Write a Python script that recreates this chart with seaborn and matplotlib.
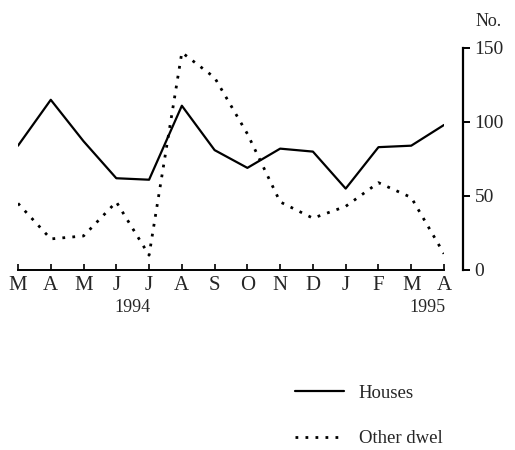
import pandas as pd
import matplotlib
matplotlib.use("Agg")
import matplotlib.pyplot as plt
import seaborn as sns

# monthly values (Mar 1994 - Apr 1995)
months = ["M", "A", "M", "J", "J", "A", "S", "O", "N", "D", "J", "F", "M", "A"]
houses = [84, 115, 87, 62, 61, 111, 81, 69, 82, 80, 55, 83, 84, 98]
other_dwel = [45, 21, 23, 46, 10, 147, 130, 92, 46, 35, 43, 59, 49, 11]
y_ticks = [0, 50, 100, 150]

sns.set_theme(style="white")
plt.rcParams["font.family"] = ["Liberation Serif", "DejaVu Serif"]

df = pd.DataFrame({"idx": range(len(months)), "Houses": houses, "Other dwel": other_dwel})

fig = plt.figure(figsize=(5.15, 4.5), dpi=100)
ax = fig.add_axes([18 / 515, 1 - 270 / 450, 426 / 515, 222 / 450])

sns.lineplot(data=df, x="idx", y="Houses", ax=ax, color="black", lw=1.6, label="Houses")
sns.lineplot(data=df, x="idx", y="Other dwel", ax=ax, color="black", lw=2.0,
             linestyle=(0, (1, 2.6)), label="Other dwel")

ax.set_xlim(0, len(months) - 1)
ax.set_ylim(0, 150)
ax.set_xlabel("")
ax.set_ylabel("")

for s in ["top", "left"]:
    ax.spines[s].set_visible(False)
ax.spines["bottom"].set_color("black")
ax.spines["bottom"].set_linewidth(1.4)
ax.spines["right"].set_color("black")
ax.spines["right"].set_linewidth(1.6)
ax.spines["right"].set_position(("outward", 14))

ax.set_xticks(range(len(months)))
ax.set_xticklabels(months, fontsize=15)
ax.tick_params(axis="x", direction="in", length=4, width=1.2, color="black", pad=4,
               bottom=True)
ax.yaxis.tick_right()
ax.set_yticks(y_ticks)
ax.set_yticklabels([str(v) for v in y_ticks], fontsize=14)
ax.tick_params(axis="y", direction="out", length=5, width=1.4, color="black", pad=3,
               right=True, left=False)
ax.grid(False)

ax.text(3.5, -0.13, "1994", transform=ax.get_xaxis_transform(), ha="center",
        va="top", fontsize=13)
ax.text(13.05, -0.13, "1995", transform=ax.get_xaxis_transform(), ha="right",
        va="top", fontsize=13)
fig.text(476 / 515, 1 - 22 / 450, "No.", ha="left", va="center", fontsize=13)

ax.legend(loc="upper left", bbox_to_anchor=(278 / 515, 1 - 368 / 450),
          bbox_transform=fig.transFigure, frameon=False, fontsize=13.5,
          handlelength=2.6, handletextpad=0.8, labelspacing=1.5)

fig.savefig("out.png", dpi=100)
